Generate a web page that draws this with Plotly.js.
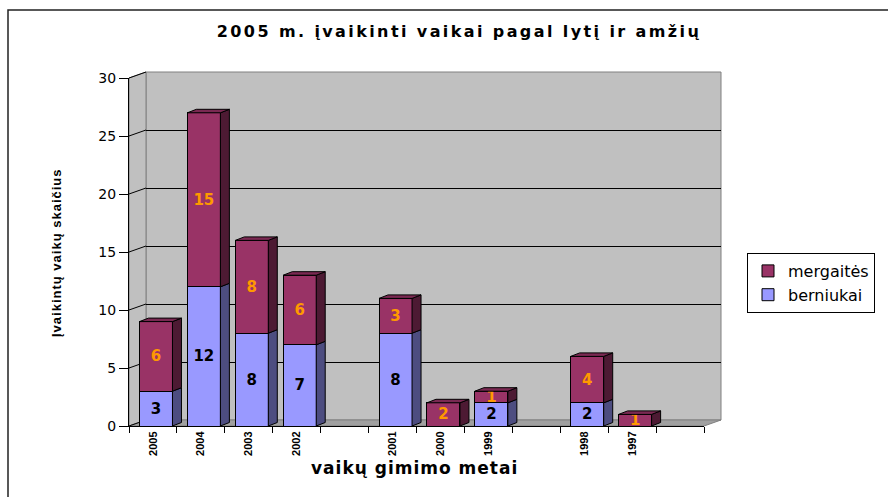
<!DOCTYPE html>
<html>
<head>
<meta charset="utf-8">
<script src="https://cdn.plot.ly/plotly-3.0.1.min.js"></script>
<style>
html,body{margin:0;padding:0;background:#fff;}
#chart{width:888px;height:497px;}
#chart .gtitle{letter-spacing:2.4px;}
#chart .ytick text{letter-spacing:1.5px;}
#chart .annotation-text{letter-spacing:1px;}
</style>
</head>
<body>
<div id="chart"></div>
<script>
// ---- data ----
const categories = ['2005','2004','2003','2002','','2001','2000','1999','','1998','1997',''];
const berniukai  = [3, 12, 8, 7, null, 8, null, 2, null, 2, null, null];
const mergaites  = [6, 15, 8, 6, null, 3, 2, 1, null, 4, 1, null];
const yTicks     = [0, 5, 10, 15, 20, 25, 30];
const seriesNames = ['berniukai', 'mergaitės'];

// ---- geometry helpers (pixel -> paper) ----
const W = 888, H = 497;
const px = x => x / W;
const py = y => 1 - y / H;
const F = {x0: 129, x1: 704, y0: 426, y1: 78};   // front plane
const B = {x0: 146, x1: 721, y0: 420, y1: 72};   // back wall
const yMax = 30;
const nCat = categories.length;
const unitX = (F.x1 - F.x0) / nCat;             // px per category
const unitY = (F.y0 - F.y1) / yMax;             // px per value
const depthX = 9 / unitX, depthY = 3.5 / unitY; // bar depth in data units
const barW = 33 / unitX, barOff = -barW / 2 + 3 / unitX;

const xs = categories.map((c, i) => i);

const fontMain = 'DejaVu Sans, Verdana, sans-serif';
const traces = [];
traces.push({x: [], y: [], xaxis: 'x', yaxis: 'y', type: 'scatter', showlegend: false, hoverinfo: 'skip'});
traces.push({
  type: 'bar', name: seriesNames[0], x: xs, y: berniukai, xaxis: 'x2', yaxis: 'y2',
  width: barW, offset: barOff,
  marker: {color: '#9999FF', line: {color: '#000', width: 1}},
  text: berniukai.map(v => v == null ? '' : String(v)), textposition: 'inside',
  insidetextanchor: 'middle', textangle: 0, constraintext: 'none',
  textfont: {family: fontMain, size: 15, color: '#000', weight: 'bold'},
  hoverinfo: 'x+y+name'
});
traces.push({
  type: 'bar', name: seriesNames[1], x: xs, y: mergaites, xaxis: 'x2', yaxis: 'y2',
  width: barW, offset: barOff,
  marker: {color: '#993366', line: {color: '#000', width: 1}},
  text: mergaites.map(v => v == null ? '' : String(v)), textposition: 'inside',
  insidetextanchor: 'middle', textangle: 0, constraintext: 'none',
  textfont: {family: fontMain, size: 15, color: '#FF9900', weight: 'bold'},
  hoverinfo: 'x+y+name'
});

// 3D side and top faces derived from the data
function facePolys(lowArr, highArr, top) {
  const X = [], Y = [];
  for (let i = 0; i < nCat; i++) {
    const lo = lowArr[i], hi = highArr[i];
    if (hi == null || lo == null || hi === lo) continue;
    const xl = i + barOff, xr = i + barOff + barW;
    if (!top) {
      X.push(xr, xr + depthX, xr + depthX, xr, xr, null);
      Y.push(lo, lo + depthY, hi + depthY, hi, lo, null);
    } else {
      X.push(xl, xl + depthX, xr + depthX, xr, xl, null);
      Y.push(hi, hi + depthY, hi + depthY, hi, hi, null);
    }
  }
  return {X, Y};
}
const bLow = berniukai.map(v => v == null ? null : 0);
const bHigh = berniukai.map(v => v == null ? null : v);
const mLow = mergaites.map((v, i) => v == null ? null : (berniukai[i] || 0));
const mHigh = mergaites.map((v, i) => v == null ? null : (berniukai[i] || 0) + v);
const topHigh = categories.map((c, i) => mHigh[i] != null ? mHigh[i] : bHigh[i]);
const topLow = topHigh.map(v => v == null ? null : 0);
function faceTrace(p, color) {
  return {type: 'scatter', mode: 'lines', x: p.X, y: p.Y, xaxis: 'x2', yaxis: 'y2',
    fill: 'toself', fillcolor: color, line: {color: '#000', width: 1},
    showlegend: false, hoverinfo: 'skip'};
}
traces.push(faceTrace(facePolys(bLow, bHigh, false), '#4D4D80'));
traces.push(faceTrace(facePolys(mLow, mHigh, false), '#4D1A33'));
traces.push(faceTrace(facePolys(topLow, topHigh, true), '#7A2952'));

// ---- walls ----
const yf = v => F.y0 - (F.y0 - F.y1) * v / yMax;
const yb = v => B.y0 - (B.y0 - B.y1) * v / yMax;
const P = (x, y) => px(x) + ',' + py(y);
const shapes = [
  {type: 'rect', xref: 'paper', yref: 'paper', x0: px(B.x0), x1: px(B.x1), y0: py(B.y0), y1: py(B.y1),
   fillcolor: '#C0C0C0', line: {color: '#808080', width: 1}, layer: 'below'},
  {type: 'path', xref: 'paper', yref: 'paper', layer: 'below',
   path: 'M' + P(F.x0, F.y1) + 'L' + P(B.x0, B.y1) + 'L' + P(B.x0, B.y0) + 'L' + P(F.x0, F.y0) + 'Z',
   fillcolor: '#C0C0C0', line: {color: '#808080', width: 1}},
  {type: 'path', xref: 'paper', yref: 'paper', layer: 'below',
   path: 'M' + P(F.x0, F.y0) + 'L' + P(B.x0, B.y0) + 'L' + P(B.x1, B.y0) + 'L' + P(F.x1, F.y0) + 'Z',
   fillcolor: '#A0A0A0', line: {color: '#808080', width: 1}},
  {type: 'rect', xref: 'paper', yref: 'paper', x0: px(8), x1: px(900), y0: py(10), y1: py(510),
   line: {color: '#222', width: 1.5}, fillcolor: 'rgba(0,0,0,0)', layer: 'above'}
];
yTicks.forEach(v => {
  shapes.push({type: 'line', xref: 'paper', yref: 'paper', layer: 'below',
    x0: px(F.x0), y0: py(yf(v)), x1: px(B.x0), y1: py(yb(v)), line: {color: '#000', width: 1}});
});

const layout = {
  width: W, height: H,
  margin: {l: 0, r: 0, t: 0, b: 0},
  paper_bgcolor: '#fff', plot_bgcolor: 'rgba(0,0,0,0)',
  barmode: 'stack',
  uniformtext: {mode: 'show', minsize: 15},
  showlegend: true,
  font: {family: fontMain, color: '#000'},
  title: {text: '2005 m. įvaikinti vaikai pagal lytį ir amžių',
    font: {family: fontMain, size: 16, weight: 'bold', color: '#000'},
    x: 459 / W, xanchor: 'center', y: py(31), yanchor: 'middle', xref: 'paper', yref: 'paper'},
  xaxis: {domain: [px(B.x0), px(B.x1)], range: [-0.5, nCat - 0.5], visible: false, fixedrange: true},
  yaxis: {domain: [py(B.y0), py(B.y1)], range: [0, yMax], dtick: 5, tick0: 0,
    showgrid: true, gridcolor: '#000', gridwidth: 1, showticklabels: false,
    zeroline: false, showline: false, ticks: '', fixedrange: true},
  xaxis2: {domain: [px(F.x0), px(F.x1)], range: [-0.5, nCat - 0.5], anchor: 'y2',
    tickvals: xs, ticktext: categories, tickangle: -90, ticks: '',
    tickfont: {family: 'Liberation Sans, Arial, sans-serif', size: 11, weight: 'bold', color: '#000'},
    showline: true, linecolor: '#000', linewidth: 1, showgrid: false, zeroline: false,
    minor: {tick0: -0.5, dtick: 1, ticks: 'outside', ticklen: 6, tickcolor: '#000', showgrid: false},
    fixedrange: true},
  yaxis2: {domain: [py(F.y0), py(F.y1)], range: [0, yMax], anchor: 'x2', tickvals: yTicks,
    ticks: 'outside', ticklen: 9, tickcolor: '#000', showline: true, linecolor: '#000',
    showgrid: false, zeroline: false,
    tickfont: {family: fontMain, size: 14, color: '#000'}, fixedrange: true},
  legend: {x: px(747), xanchor: 'left', y: py(253), yanchor: 'top', traceorder: 'reversed',
    bgcolor: '#fff', bordercolor: '#000', borderwidth: 1, tracegroupgap: 0,
    font: {family: fontMain, size: 16, color: '#000'}},
  annotations: [
    {text: 'Įvaikintų vaikų skaičius', xref: 'paper', yref: 'paper', x: px(56), y: py(252),
     textangle: -90, showarrow: false, xanchor: 'center', yanchor: 'middle',
     font: {family: 'Liberation Sans, Arial, sans-serif', size: 13, weight: 'bold', color: '#000'}},
    {text: 'vaikų gimimo metai', xref: 'paper', yref: 'paper', x: px(414), y: py(468),
     showarrow: false, xanchor: 'center', yanchor: 'middle',
     font: {family: fontMain, size: 17, weight: 'bold', color: '#000'}}
  ],
  shapes: shapes
};

Plotly.newPlot('chart', traces, layout, {displayModeBar: false, staticPlot: true});
</script>
</body>
</html>
